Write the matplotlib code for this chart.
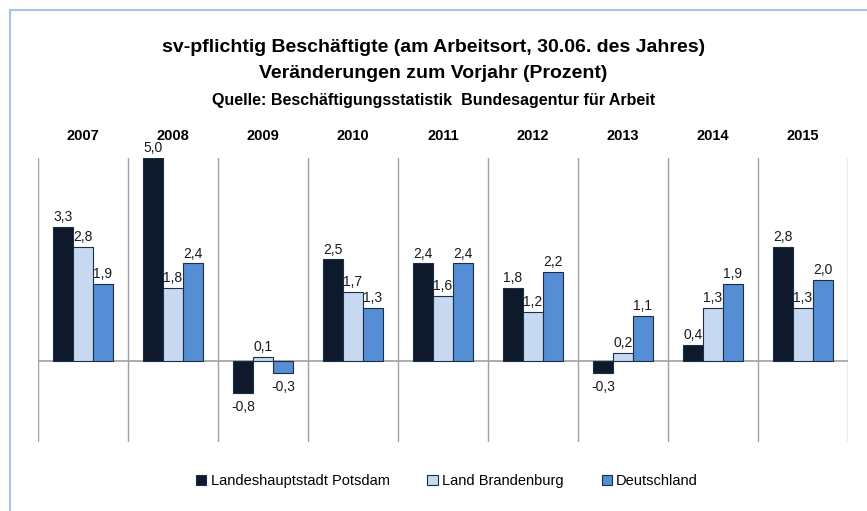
import matplotlib
matplotlib.use("Agg")
import matplotlib.pyplot as plt
import numpy as np
from matplotlib.lines import Line2D

plt.rcParams['font.family'] = ['Liberation Sans', 'DejaVu Sans']

years = ["2007", "2008", "2009", "2010", "2011", "2012", "2013", "2014", "2015"]
potsdam = [3.3, 5.0, -0.8, 2.5, 2.4, 1.8, -0.3, 0.4, 2.8]
brandenburg = [2.8, 1.8, 0.1, 1.7, 1.6, 1.2, 0.2, 1.3, 1.3]
deutschland = [1.9, 2.4, -0.3, 1.3, 2.4, 2.2, 1.1, 1.9, 2.0]
series_names = ["Landeshauptstadt Potsdam", "Land Brandenburg", "Deutschland"]
colors = ["#0E1A2C", "#C6D9F1", "#558ED5"]

W, H = 867, 511
fig = plt.figure(figsize=(W / 100, H / 100), dpi=100)

# frame lines (light blue)
fig.add_artist(Line2D([10 / W, 10 / W], [0, 1 - 10 / H], color="#A9C3E6", lw=1.5))
fig.add_artist(Line2D([10 / W, 1], [1 - 10 / H, 1 - 10 / H], color="#A9C3E6", lw=1.5))

ax = fig.add_axes([38 / W, 69 / H, 810 / W, 284 / H])
x = np.arange(len(years))
bw = 0.222
for i, (vals, col, name) in enumerate(zip([potsdam, brandenburg, deutschland], colors, series_names)):
    pos = x + (i - 1) * bw
    ax.bar(pos, vals, width=bw, color=col, edgecolor="#1B2E48", linewidth=0.8, label=name, zorder=3)
    for px, v in zip(pos, vals):
        lab = f"{v:.1f}".replace(".", ",")
        if v >= 0:
            ax.annotate(lab, (px, v), xytext=(0, 2), textcoords="offset points",
                        ha="center", va="bottom", fontsize=10, color="#1a1a1a")
        else:
            ax.annotate(lab, (px, v), xytext=(0, -5), textcoords="offset points",
                        ha="center", va="top", fontsize=10, color="#1a1a1a")

ax.set_xlim(-0.5, len(years) - 0.5)
ax.set_ylim(-2, 5)
ax.axhline(0, color="#A0A0A0", lw=1.2, zorder=2)
for b in np.arange(len(years) + 1) - 0.5:
    ax.axvline(b, color="#A0A0A0", lw=1.0, zorder=1)
for s in ax.spines.values():
    s.set_visible(False)
ax.set_yticks([])
ax.xaxis.tick_top()
ax.set_xticks(x)
ax.set_xticklabels(years, fontsize=10.5, fontweight="bold")
ax.tick_params(axis="x", length=0, pad=11)

fig.text(0.5, 1 - 47 / H, "sv-pflichtig Beschäftigte (am Arbeitsort, 30.06. des Jahres)",
         ha="center", va="center", fontsize=14, fontweight="bold")
fig.text(0.5, 1 - 74 / H, "Veränderungen zum Vorjahr (Prozent)",
         ha="center", va="center", fontsize=14, fontweight="bold")
fig.text(0.5, 1 - 100 / H, "Quelle: Beschäftigungsstatistik  Bundesagentur für Arbeit",
         ha="center", va="center", fontsize=11.5, fontweight="bold")

leg = fig.legend(loc="center", bbox_to_anchor=(447 / W, 1 - 481 / H), ncol=3, frameon=False,
                 fontsize=10.5, handlelength=0.7, handleheight=0.7, handletextpad=0.3,
                 columnspacing=2.6)

fig.savefig("out.png", dpi=100)
